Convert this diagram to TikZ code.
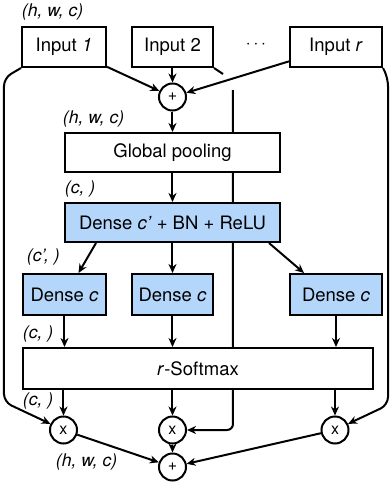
\documentclass[tikz,border=0pt]{standalone}
\usepackage{fontspec}
\setmainfont{TeX Gyre Heros}
\usetikzlibrary{arrows.meta,positioning,calc,backgrounds}
\definecolor{denseblue}{RGB}{180,214,250}
\tikzset{
    wire/.style={line width=2pt},
    block/.style={draw,wire,rectangle,fill=white,minimum height=40pt,inner sep=2pt,font=\fontsize{18.5}{22}\selectfont},
    dense/.style={block,fill=denseblue},
    op/.style={draw,wire,circle,fill=white,minimum size=27pt,inner sep=0pt,font=\fontsize{16}{18}\selectfont},
    dim/.style={anchor=west,inner sep=0pt,font=\fontsize{17.5}{20}\selectfont\itshape},
}

\begin{document}
\begin{tikzpicture}[->,>={Stealth[length=9pt,width=8pt]},wire,node distance=1cm]
        \useasboundingbox (-172.5pt,47pt) rectangle (216.5pt,-441pt);
        % inputs
        \node[block, minimum width=81pt] (in2) []{Input 2};
        \node[block, minimum width=84pt] (in1) [left of = in2, node distance=108.5pt]{Input \textit{1}};
        \node[block, minimum width=92pt] (inr) [right of = in2, node distance=163.5pt]{Input \textit{r}};
        \node[font=\fontsize{18.5}{22}\selectfont] (dots) [right of = in2, node distance=83.5pt, yshift=2pt]{$\cdots$};
        \node[op] (plus1) [below of = in2, node distance=50pt]{+};

        % attention branch
        \node[block, minimum width=215pt, minimum height=39pt] (pool) [below of = plus1, node distance=55.5pt]{Global pooling};
        \node[dense, minimum width=215pt, minimum height=39pt] (fc) [below of = pool, node distance=70pt]{Dense \textit{c’} + BN + ReLU};
        \node[dense, minimum width=81pt, minimum height=41pt] (dc2) [below of = fc, node distance=72pt]{Dense \textit{c}};
        \node[dense, minimum width=83pt, minimum height=41pt] (dc1) [left of = dc2, node distance=108pt]{Dense \textit{c}};
        \node[dense, minimum width=92pt, minimum height=41pt] (dc3) [right of = dc2, node distance=163.5pt]{Dense \textit{c}};
        \node[block, minimum width=350pt, minimum height=41pt] (soft) [below of = dc2, node distance=74pt, xshift=25.5pt]{\textit{r}-Softmax};

        % weighting and sum
        \node[op] (mul2) [below of = dc2, node distance=135.5pt]{x};
        \node[op] (mul1) [left of = mul2, node distance=109pt]{x};
        \node[op] (mul3) [right of = mul2, node distance=162.5pt]{x};
        \node[op] (plus2) [below of = mul2, node distance=37pt]{+};

        % shapes
        \node[dim] (d0) at ([yshift=14pt]in1.north west) {(h, w, c)};
        \node[dim] (d1) at ([shift={(-2pt,13pt)}]pool.north west) {(h, w, c)};
        \node[dim] (d2) at ([yshift=13pt]fc.north west) {(c, )};
        \node[dim] (d3) at ([shift={(4pt,16pt)}]dc1.north west) {(c’, )};
        \node[dim] (d4) at ([yshift=13pt]soft.north west) {(c, )};
        \node[dim] (d5) at ([yshift=-11pt]soft.south west) {(c, )};
        \node[dim] (d6) at ([shift={(-8.5pt,-17pt)}]mul1.south) {(h, w, c)};

        % bypass lines
        \coordinate (ga) at ([shift={(9pt,-6pt)}]in2.south east);
        \coordinate (gb) at ([shift={(19pt,-22pt)}]in2.south east);
        \coordinate (lt) at ([shift={(-17pt,-10pt)}]in1.south west);
        \coordinate (lb) at ($(lt |- mul1)+(0,28pt)$);
        \coordinate (rt) at ([shift={(5pt,-10pt)}]inr.south east);
        \coordinate (rb) at ($(rt |- mul3)+(0,25pt)$);
        \begin{pgfonlayer}{background}
            \draw[wire, -] (in2.south east) -- (ga);
            \draw[wire, rounded corners=6pt] (gb) -- (gb |- mul2) -- (mul2);
            \draw[wire, rounded corners=8pt] (in1.south west) -- (lt) -- (lb) -- (mul1);
            \draw[wire, rounded corners=8pt] (inr.south east) -- (rt) -- (rb) -- (mul3);
        \end{pgfonlayer}

        \path[wire]
            (in1) edge (plus1)
            (in2) edge (plus1)
            (inr) edge (plus1)
            (plus1) edge (pool)
            (pool) edge (fc)
            ([xshift=32pt]fc.south west) edge ([xshift=14pt]dc1.north)
            (fc) edge (dc2)
            ([xshift=-12pt]fc.south east) edge ([xshift=15pt]dc3.north west)
            (dc1) edge (dc1 |- soft.north)
            (dc2) edge (dc2 |- soft.north)
            (dc3) edge (dc3 |- soft.north)
            (mul1 |- soft.south) edge (mul1)
            (mul2 |- soft.south) edge (mul2)
            (mul3 |- soft.south) edge (mul3)
            (mul1) edge (plus2)
            (mul2) edge (plus2)
            (mul3) edge (plus2)
            ;
\end{tikzpicture}
\end{document}
